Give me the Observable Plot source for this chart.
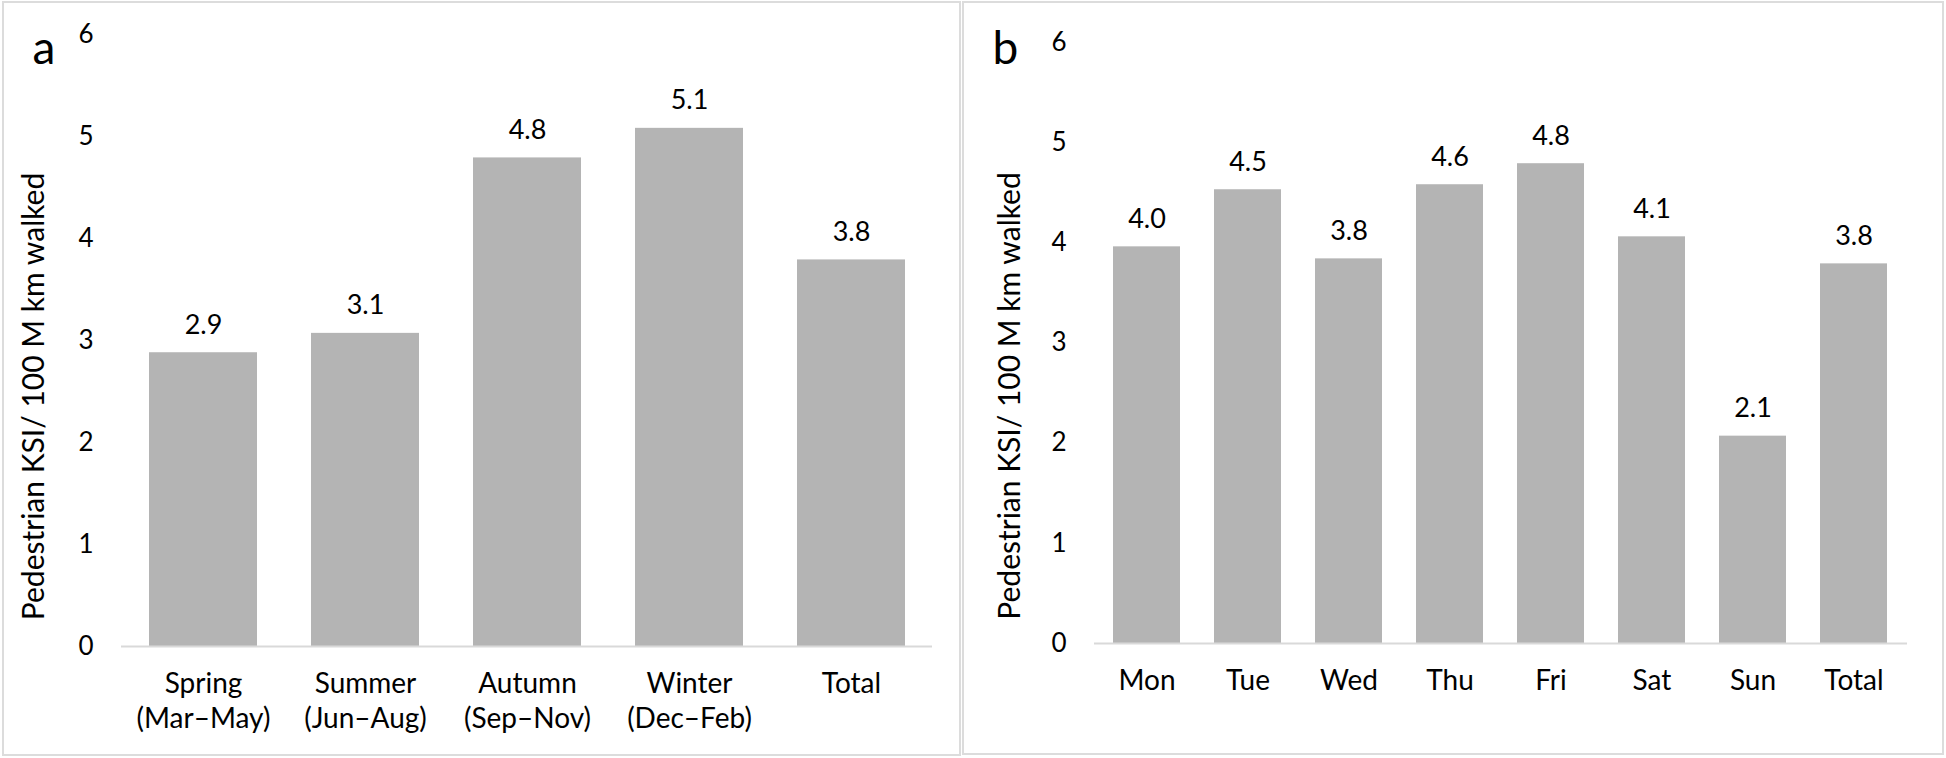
<!DOCTYPE html>
<html><head><meta charset="utf-8">
<script src="https://cdn.jsdelivr.net/npm/d3@7"></script>
<script src="https://cdn.jsdelivr.net/npm/@observablehq/plot@0.6"></script>
<style>
html,body{margin:0;padding:0;background:#fff;}
body{width:1946px;height:758px;position:relative;overflow:hidden;font-family:Lato, sans-serif;}
.frame{position:absolute;box-sizing:border-box;border:2px solid #dcdcdc;}
#fa{left:2px;top:1px;width:959px;height:755px;}
#fb{left:962px;top:1px;width:982px;height:754px;}
#pa,#pb{position:absolute;top:0;}
#pa{left:0}
#pb{left:962px}
</style></head><body>
<div class="frame" id="fa"></div><div class="frame" id="fb"></div>
<div id="pa"></div><div id="pb"></div>
<script>
const seasons = ["Spring\n(Mar–May)", "Summer\n(Jun–Aug)", "Autumn\n(Sep–Nov)", "Winter\n(Dec–Feb)", "Total"];
const seasonValues = [2.88, 3.07, 4.79, 5.08, 3.79];
const days = ["Mon", "Tue", "Wed", "Thu", "Fri", "Sat", "Sun", "Total"];
const dayValues = [3.96, 4.53, 3.84, 4.58, 4.79, 4.06, 2.07, 3.79];
const yTicks = [0, 1, 2, 3, 4, 5, 6];
const yTitle = "Pedestrian KSI/ 100 M km walked";
const panelLetters = ["a", "b"];

function panel(o) {
  const data = o.cats.map((c, i) => ({c, v: o.vals[i]}));
  return Plot.plot({
    width: o.width, height: 758,
    marginTop: o.mt, marginLeft: o.ml, marginRight: o.mr, marginBottom: o.mb,
    style: {fontFamily: "Lato, sans-serif", fontSize: "26px", color: "#000", background: "transparent", overflow: "visible"},
    x: {domain: o.cats, paddingInner: 0.334, paddingOuter: 0.167, align: 0.5, label: null},
    y: {domain: [0, 6], label: null},
    marks: [
      Plot.barY(data, {x: "c", y: "v", fill: "#b4b4b4"}),
      Plot.ruleY([0], {stroke: "#d9d9d9", strokeWidth: 2}),
      Plot.axisY(yTicks, {tickSize: 0, tickPadding: 28, fontSize: 26, tickFormat: "d", label: null, fill: "#000"}),
      Plot.axisX({tickSize: 0, tickPadding: 22, fontSize: 28, lineHeight: 1.25, label: null, fill: "#000"}),
      Plot.text(data, {x: "c", y: "v", text: d => d.v.toFixed(1), dy: -19, lineAnchor: "bottom", fontSize: 27, fill: "#000"}),
      Plot.text([yTitle], {frameAnchor: "left", rotate: -90, textAnchor: "middle", dx: o.titleDx, dy: o.titleDy, fontSize: 30, lineAnchor: "bottom", fill: "#000"}),
      Plot.text([o.letter], {frameAnchor: "top-left", dx: o.letterDx, dy: o.letterDy, fontSize: 46, textAnchor: "start", lineAnchor: "bottom", fill: "#000"})
    ]
  });
}

document.getElementById("pa").append(panel({
  cats: seasons, vals: seasonValues, width: 960, mt: 34, ml: 121, mr: 28, mb: 112,
  letter: panelLetters[0], letterDx: -89, letterDy: 29, titleDx: -78, titleDy: 56
}));
document.getElementById("pb").append(panel({
  cats: days, vals: dayValues, width: 984, mt: 42, ml: 132, mr: 39, mb: 115,
  letter: panelLetters[1], letterDx: -102, letterDy: 21, titleDx: -75, titleDy: 53
}));
</script>
</body></html>
